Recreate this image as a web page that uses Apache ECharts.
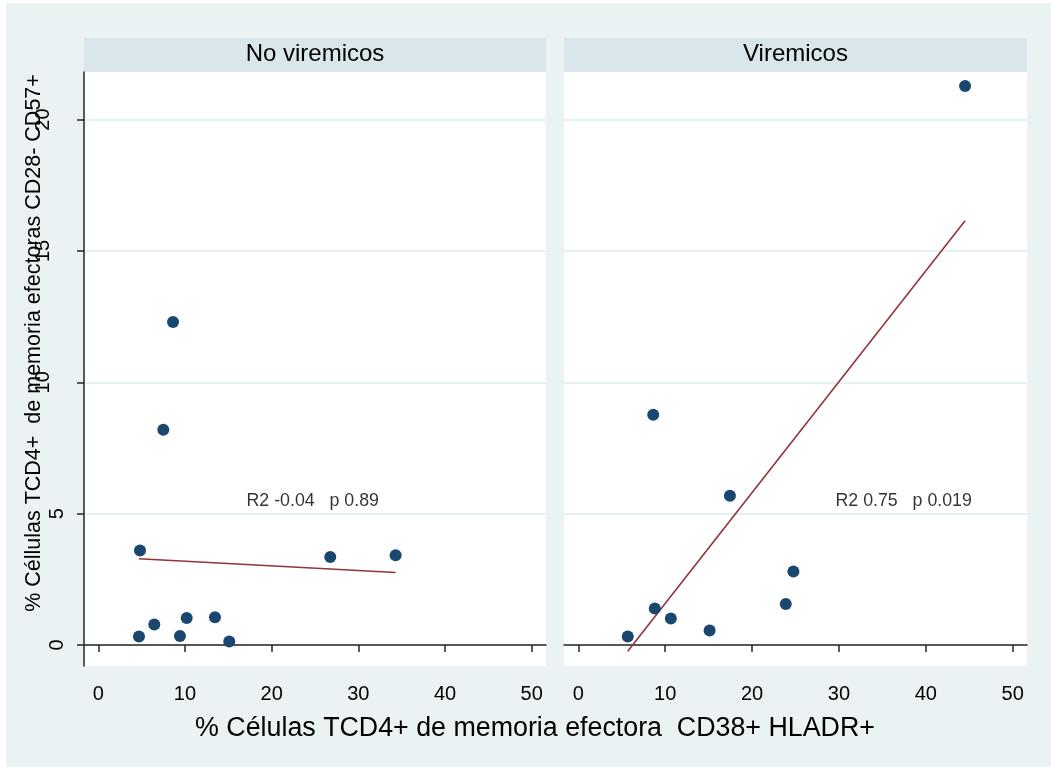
<!DOCTYPE html>
<html>
<head>
<meta charset="utf-8">
<script src="https://cdn.jsdelivr.net/npm/echarts@6/dist/echarts.min.js"></script>
<style>
  html, body { margin: 0; padding: 0; background: #ffffff; }
  #chart { width: 1051px; height: 767px; }
</style>
</head>
<body>
<div id="chart"></div>
<script>
// ---- data ----
const panelTitles = ['No viremicos', 'Viremicos'];
const xTitle = '% Células TCD4+ de memoria efectora  CD38+ HLADR+';
const yTitle = '% Céllulas TCD4+  de memoria efectoras CD28- CD57+';
const xTicks = [0, 10, 20, 30, 40, 50];
const yTicks = [0, 5, 10, 15, 20];

const noViremicosX = [8.62, 7.50, 4.81, 26.76, 34.30, 4.69, 6.46, 10.20, 9.42, 13.46, 15.11];
const noViremicosY = [12.29, 8.19, 3.60, 3.35, 3.42, 0.32, 0.78, 1.03, 0.34, 1.06, 0.13];
const viremicosX = [44.52, 8.62, 17.45, 24.76, 23.88, 8.80, 10.65, 15.11, 5.69];
const viremicosY = [21.28, 8.76, 5.68, 2.80, 1.56, 1.39, 1.01, 0.55, 0.32];

const fitNoViremicosX = [4.69, 34.30];
const fitNoViremicosY = [3.28, 2.76];
const fitViremicosX = [5.69, 44.52];
const fitViremicosY = [-0.24, 16.15];

const annotText = ['R2 -0.04   p 0.89', 'R2 0.75   p 0.019'];
const annotX = [17.1, 29.6];
const annotY = [5.47, 5.47];

// ---- styling ----
const FONT = "'Liberation Sans', Arial, sans-serif";
const BG = '#eaf2f3';
const STRIP = '#d9e6eb';
const DOT = '#1a476f';
const FIT = '#90353b';
const AXIS = '#262626';

const zip = (xs, ys) => xs.map((x, i) => [x, ys[i]]);

const grids = [
  { left: 84, top: 72, width: 462, height: 594 },
  { left: 564, top: 72, width: 463, height: 594 }
];

function xAxisFor(i) {
  return {
    type: 'value', gridIndex: i, min: -1.65, max: 51.65,
    axisLine: { show: true, lineStyle: { color: AXIS, width: 1.5 } },
    axisTick: { show: true, customValues: xTicks, length: 7, lineStyle: { color: AXIS, width: 1.5 } },
    axisLabel: { show: true, customValues: xTicks, margin: 18, fontSize: 20, color: '#000', fontFamily: FONT },
    splitLine: { show: false }
  };
}
function yAxisFor(i) {
  const first = i === 0;
  return {
    type: 'value', gridIndex: i, min: -0.8, max: 21.81,
    axisLine: { show: first, onZero: false, lineStyle: { color: AXIS, width: 1.5 } },
    axisTick: { show: first, customValues: yTicks, length: 7, lineStyle: { color: AXIS, width: 1.5 } },
    axisLabel: {
      show: first, customValues: yTicks, rotate: 90, margin: 17,
      fontSize: 20, color: '#000', fontFamily: FONT,
      formatter: v => (String(v).length > 1 ? '{w|' + v + '}' : '{n|' + v + '}'),
      rich: {
        n: { fontSize: 20, fontFamily: FONT, color: '#000' },
        w: { fontSize: 20, fontFamily: FONT, color: '#000', padding: [0, 0, 14, 0] }
      }
    },
    splitLine: { show: true, customValues: yTicks, lineStyle: { color: '#e6eff1', width: 2 } }
  };
}

const scatterStyle = { color: DOT, opacity: 1 };
const series = [
  { type: 'scatter', xAxisIndex: 0, yAxisIndex: 0, data: zip(noViremicosX, noViremicosY), symbolSize: 12, itemStyle: scatterStyle, z: 3 },
  { type: 'scatter', xAxisIndex: 1, yAxisIndex: 1, data: zip(viremicosX, viremicosY), symbolSize: 12, itemStyle: scatterStyle, z: 3 },
  { type: 'line', xAxisIndex: 0, yAxisIndex: 0, data: zip(fitNoViremicosX, fitNoViremicosY), showSymbol: false, symbol: 'none', lineStyle: { color: FIT, width: 1.6 }, z: 2 },
  { type: 'line', xAxisIndex: 1, yAxisIndex: 1, data: zip(fitViremicosX, fitViremicosY), showSymbol: false, symbol: 'none', lineStyle: { color: FIT, width: 1.6 }, z: 2 }
];
annotText.forEach((t, i) => {
  series.push({
    type: 'scatter', xAxisIndex: i, yAxisIndex: i, symbolSize: 0, silent: true,
    data: [[annotX[i], annotY[i]]],
    label: { show: true, position: 'right', distance: 0, formatter: t, fontSize: 17.8, color: '#000', fontFamily: FONT },
    z: 4
  });
});

const graphic = [
  { type: 'rect', shape: { x: 6, y: 3, width: 1045, height: 764 }, style: { fill: BG }, z: -10, silent: true }
];
grids.forEach((g, i) => {
  graphic.push({ type: 'rect', shape: { x: g.left, y: 38, width: g.width, height: 34 }, style: { fill: STRIP }, z: -5, silent: true });
  graphic.push({ type: 'text', x: g.left + g.width / 2, y: 54, style: { text: panelTitles[i], fontSize: 24, fontFamily: FONT, fill: '#000', align: 'center', verticalAlign: 'middle' }, z: 5, silent: true });
});
graphic.push({ type: 'text', x: 535, y: 729, style: { text: xTitle, fontSize: 26.8, fontFamily: FONT, fill: '#000', align: 'center', verticalAlign: 'middle' }, silent: true });
graphic.push({ type: 'text', x: 34, y: 343, rotation: Math.PI / 2, style: { text: yTitle, fontSize: 21.5, fontFamily: FONT, fill: '#000', align: 'center', verticalAlign: 'middle' }, silent: true });

const chart = echarts.init(document.getElementById('chart'), null, { renderer: 'canvas' });
chart.setOption({
  backgroundColor: '#ffffff',
  animation: false,
  grid: grids.map(g => Object.assign({ show: true, backgroundColor: '#ffffff', borderWidth: 0, containLabel: false }, g)),
  xAxis: [xAxisFor(0), xAxisFor(1)],
  yAxis: [yAxisFor(0), yAxisFor(1)],
  series: series,
  graphic: graphic
});
</script>
</body>
</html>
